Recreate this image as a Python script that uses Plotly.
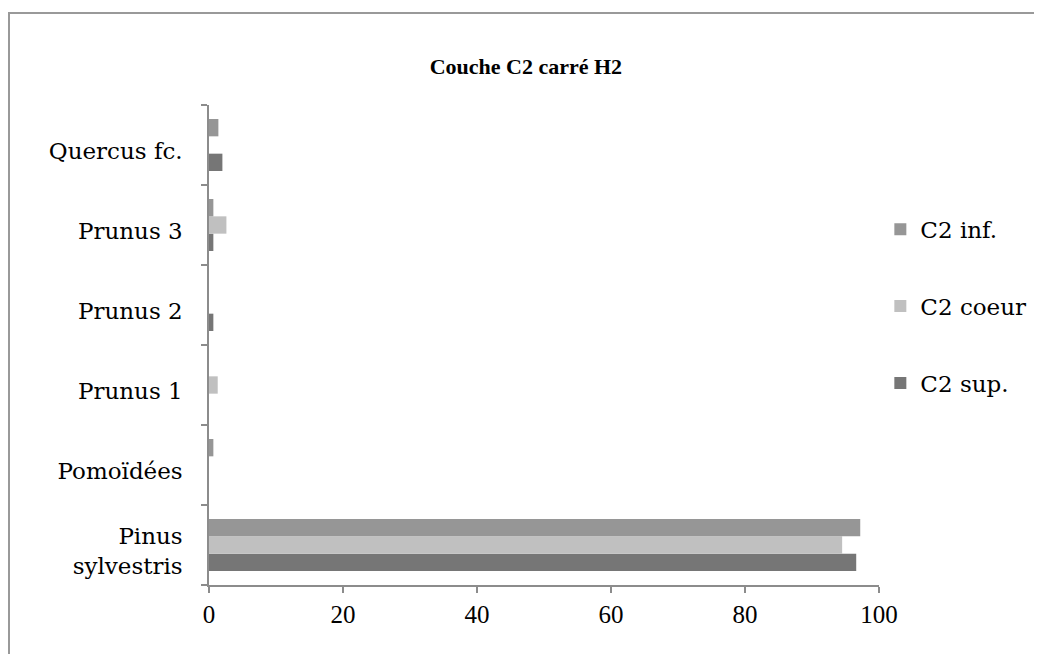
"""Couche C2 carré H2 — horizontal grouped bar chart."""

import plotly.graph_objects as go

CATEGORIES = ["Pinus<br>sylvestris", "Pomoïdées", "Prunus 1", "Prunus 2", "Prunus 3", "Quercus fc."]

C2_SUP = [96.6, 0, 0, 0.65, 0.65, 2.0]
C2_COEUR = [94.5, 0, 1.3, 0, 2.6, 0]
C2_INF = [97.2, 0.65, 0, 0, 0.65, 1.4]

X_TICKS = [0, 20, 40, 60, 80, 100]

SERIF = "'DejaVu Serif', 'Liberation Serif', serif"
SERIF_NUM = "'Liberation Serif', serif"
AXIS = "#8c8c8c"

# (name, values, colour, legend rank)
SERIES = [
    ("C2 sup.", C2_SUP, "#767676", 3),
    ("C2 coeur", C2_COEUR, "#c0c0c0", 2),
    ("C2 inf.", C2_INF, "#969696", 1),
]

fig = go.Figure()
for name, vals, color, rank in SERIES:
    fig.add_bar(
        y=CATEGORIES,
        x=vals,
        name=name,
        orientation="h",
        legendgroup=name,
        legendrank=rank,
        marker=dict(color=color, line=dict(width=0)),
    )

# page body has an 8px margin, so the figure is drawn 8px in from the corner
W, H = 1034, 646
fig.update_layout(
    width=W,
    height=H,
    barmode="group",
    bargap=0.35,
    bargroupgap=0,
    paper_bgcolor="white",
    plot_bgcolor="white",
    font=dict(family=SERIF, size=23, color="#000000"),
    margin=dict(l=201, r=163, t=97, b=69, autoexpand=False),
    title=dict(
        text="<b>Couche C2 carré H2</b>",
        x=0.473, xref="paper", xanchor="center",
        y=1 - 58 / H, yanchor="middle",
        font=dict(family=SERIF_NUM, size=22, color="#000000"),
    ),
    showlegend=True,
    legend=dict(
        traceorder="grouped",
        tracegroupgap=44,
        x=1.002, xanchor="left",
        y=0.786, yanchor="top",
        font=dict(size=23),
        bgcolor="rgba(0,0,0,0)",
        itemclick=False,
    ),
    xaxis=dict(
        range=[0, 100],
        tickvals=X_TICKS,
        showgrid=False,
        zeroline=False,
        showline=True,
        linecolor=AXIS,
        linewidth=1.5,
        ticks="outside",
        ticklen=6,
        tickcolor=AXIS,
        tickwidth=1.5,
        tickfont=dict(family=SERIF_NUM, size=25),
    ),
    yaxis=dict(
        type="category",
        showgrid=False,
        zeroline=False,
        showline=True,
        linecolor=AXIS,
        linewidth=1.5,
        ticks="outside",
        tickson="boundaries",
        ticklen=6,
        tickcolor=AXIS,
        tickwidth=1.5,
        ticklabelstandoff=20,
        ticklabelshift=6,
        tickfont=dict(size=23),
    ),
    shapes=[
        dict(
            type="rect", xref="paper", yref="paper",
            x0=(1 - 201) / 670, x1=1.5,
            y0=-0.5, y1=1 + (97 - 5) / 480,
            line=dict(color="#999999", width=2),
            fillcolor="rgba(0,0,0,0)",
            layer="below",
        )
    ],
)

fig.write_html("out.html")
